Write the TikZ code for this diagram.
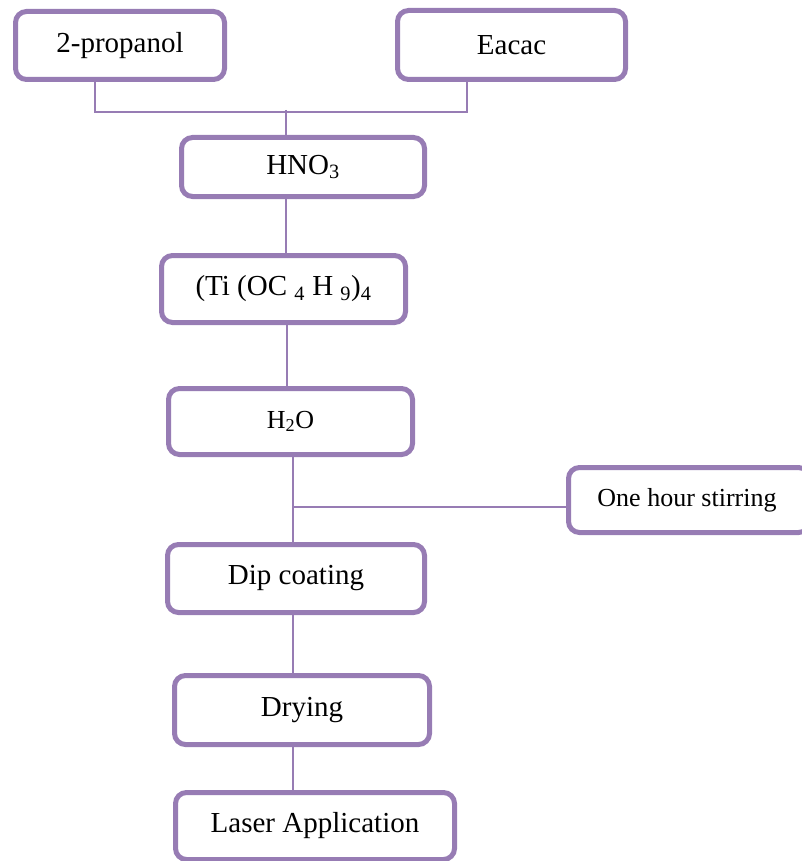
\documentclass[tikz,border=0pt]{standalone}
\usepackage{fontspec}
\setmainfont{Liberation Serif}
\definecolor{boxpurple}{RGB}{151,124,180}
\begin{document}
\begin{tikzpicture}[x=1pt,y=-1pt,
  box/.style={draw=boxpurple, line width=5pt, rounded corners=11pt, fill=white,
    inner sep=0pt, align=center, font=\fontsize{29}{34}\selectfont},
  smalltext/.style={font=\fontsize{26}{31}\selectfont},
  link/.style={draw=boxpurple, line width=2pt}]
\useasboundingbox (0,0) rectangle (802,861);
\clip (0,0) rectangle (802,861);
% boxes
\node[box, minimum width=209pt, minimum height=68pt] (prop) at (120,45.5) {2-propanol};
\node[box, minimum width=228pt, minimum height=69pt] (eacac) at (511.5,45) {Eacac};
\node[box, minimum width=243pt, minimum height=59pt] (hno3) at (303,167) {HNO\textsubscript{3}};
\node[box, minimum width=244pt, minimum height=67pt] (ti) at (283.5,289) {(Ti (OC \textsubscript{4} H \textsubscript{9})\textsubscript{4}};
\node[box, smalltext, minimum width=244pt, minimum height=66pt] (h2o) at (290.5,421.5) {H\textsubscript{2}O};
\node[box, smalltext, minimum width=241pt, minimum height=65pt] (stir) at (689,500) {One hour stirring\hspace*{4pt}};
\node[box, minimum width=257pt, minimum height=68pt] (dip) at (296,578.5) {Dip coating};
\node[box, minimum width=255pt, minimum height=69pt] (dry) at (302,710) {Drying};
\node[box, minimum width=279pt, minimum height=67pt] (laser) at (315,826) {Laser Application};
% connector guide coordinates
\coordinate (xa) at (95,112);
\coordinate (xb) at (467,112);
\coordinate (j1) at (285.5,110);
\coordinate (xc) at (287,0);
\coordinate (jd) at (293,507);
% connectors
\draw[link] (prop.south -| xa) -- (xa) -- (xb) -- (eacac.south -| xb);
\draw[link] (j1) -- (hno3.north -| j1);
\draw[link] (hno3.south -| j1) -- (ti.north -| j1);
\draw[link] (ti.south -| xc) -- (h2o.north -| xc);
\draw[link] (h2o.south -| jd) -- (dip.north -| jd);
\draw[link] (jd) -- (stir.west |- jd);
\draw[link] (dip.south -| jd) -- (dry.north -| jd);
\draw[link] (dry.south -| jd) -- (laser.north -| jd);
\end{tikzpicture}
\end{document}
